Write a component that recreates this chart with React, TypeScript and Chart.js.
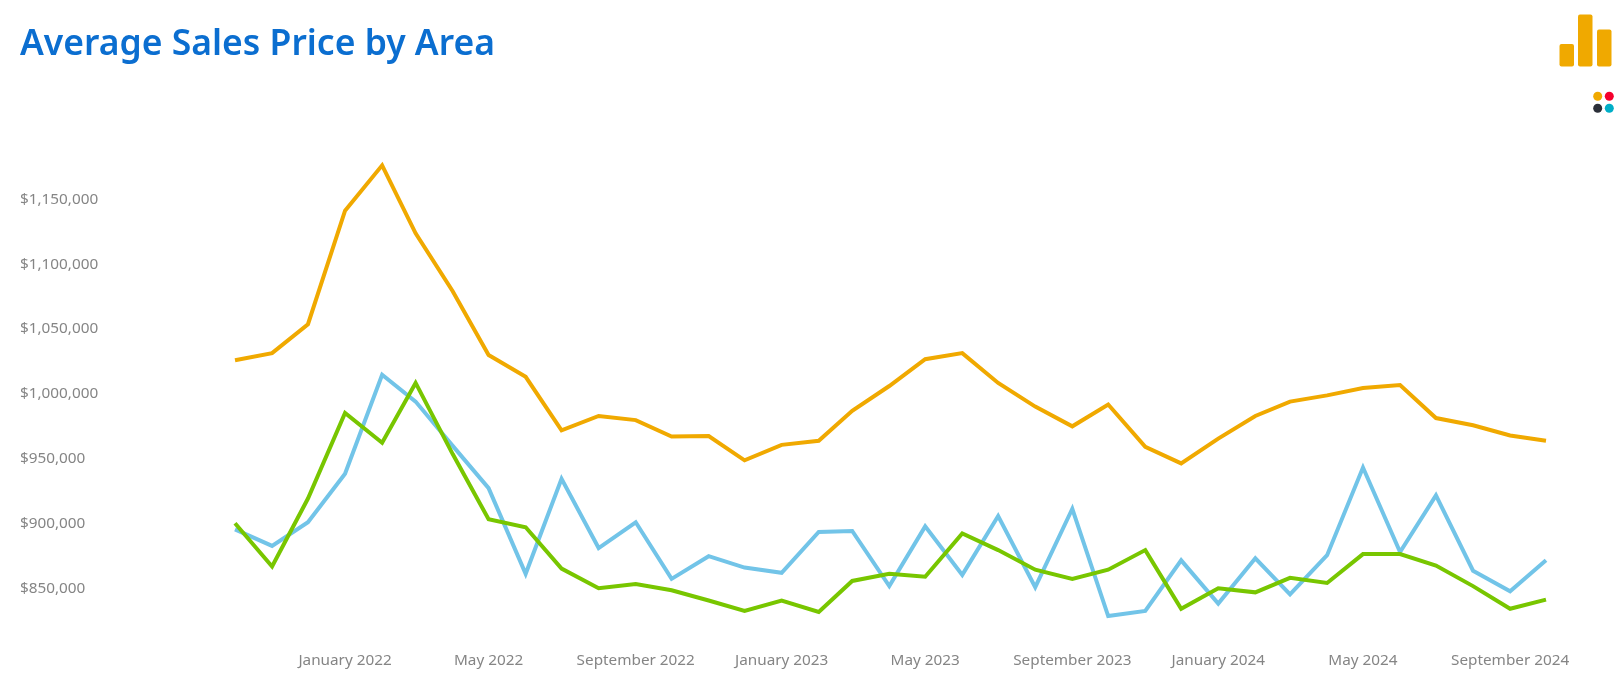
import { useEffect, useRef } from "react"
import { Chart, registerables } from "chart.js"

Chart.register(...registerables)

const months = [
  "October 2021", "November 2021", "December 2021",
  "January 2022", "February 2022", "March 2022", "April 2022", "May 2022", "June 2022",
  "July 2022", "August 2022", "September 2022", "October 2022", "November 2022", "December 2022",
  "January 2023", "February 2023", "March 2023", "April 2023", "May 2023", "June 2023",
  "July 2023", "August 2023", "September 2023", "October 2023", "November 2023", "December 2023",
  "January 2024", "February 2024", "March 2024", "April 2024", "May 2024", "June 2024",
  "July 2024", "August 2024", "September 2024", "October 2024",
]

const shownMonths = [
  "January 2022", "May 2022", "September 2022",
  "January 2023", "May 2023", "September 2023",
  "January 2024", "May 2024", "September 2024",
]

const shownPrices = [850000, 900000, 950000, 1000000, 1050000, 1100000, 1150000]

const orangeArea = [
  1025900, 1031400, 1053700, 1141300, 1176300, 1123800, 1079200, 1029900, 1013100, 971800,
  982900, 979700, 967000, 967400, 948700, 960600, 963800, 986900, 1006000, 1026700,
  1031400, 1008400, 990100, 974900, 991700, 959000, 946300, 965400, 982900, 994000,
  998800, 1004400, 1006800, 981300, 975700, 967800, 963800,
]

const greenArea = [
  900100, 866700, 919200, 985300, 962200, 1008400, 953500, 903300, 897000, 865100,
  850000, 853200, 848400, 840500, 832500, 840500, 831700, 855600, 861100, 858800,
  892200, 879400, 864300, 857200, 864300, 879400, 834100, 850000, 846800, 858000,
  854000, 876300, 876300, 867500, 851600, 834100, 841200,
]

const blueArea = [
  895400, 882600, 900900, 938300, 1014700, 994000, 959800, 927200, 861100, 934400,
  881000, 900900, 857200, 874700, 865900, 861900, 893400, 894200, 851600, 897700,
  860300, 905700, 850800, 911300, 828500, 832500, 871500, 838100, 873100, 845200,
  875500, 943100, 877900, 921600, 863500, 847600, 871500,
]

const tickFont = { family: "'Noto Sans', sans-serif", size: 15.3 }

// the axis runs on real dates, so a 28 day month is narrower than a 31 day one
const monthTime = (month: string) => Date.parse(`1 ${month} UTC`)

const toPoints = (values: number[]) =>
  values.map((y, i) => ({ x: monthTime(months[i]), y }))

export default function App() {
  const chartRef = useRef<HTMLCanvasElement>(null)

  useEffect(() => {
    if (!chartRef.current) return

    const chart = new Chart(chartRef.current, {
      type: "line",
      data: {
        datasets: [
          { label: "Orange area", data: toPoints(orangeArea), borderColor: "#f0a900" },
          { label: "Green area", data: toPoints(greenArea), borderColor: "#78c600" },
          { label: "Blue area", data: toPoints(blueArea), borderColor: "#72c4e8" },
        ],
      },
      options: {
        responsive: false,
        animation: false,
        clip: false,
        layout: { padding: { left: 20, right: 72, top: 6, bottom: 6 } },
        datasets: { line: { borderWidth: 4, tension: 0, pointRadius: 0 } },
        plugins: {
          legend: { display: false },
          tooltip: { enabled: false },
          title: {
            display: true,
            text: "Average Sales Price by Area",
            align: "start",
            color: "#0b6ed0",
            font: { family: "'Noto Sans', sans-serif", size: 35.5, weight: "600", lineHeight: 1.2 },
            padding: { top: 18, bottom: 68 },
          },
        },
        scales: {
          x: {
            type: "linear",
            min: monthTime(months[0]),
            max: monthTime(months[months.length - 1]),
            offset: false,
            grid: { display: false, drawTicks: false },
            border: { display: false },
            afterFit: (scale) => {
              scale.height = 20
            },
            afterBuildTicks: (scale) => {
              scale.ticks = shownMonths.map((month) => ({ value: monthTime(month) }))
            },
            ticks: {
              autoSkip: false,
              maxRotation: 0,
              padding: -2,
              color: "#858585",
              font: tickFont,
              callback: (value) => months.find((month) => monthTime(month) === value) ?? "",
            },
          },
          y: {
            min: 800000,
            max: 1200000,
            grid: { display: false, drawTicks: false },
            border: { display: false },
            afterFit: (scale) => {
              scale.width = 215
            },
            afterBuildTicks: (scale) => {
              scale.ticks = shownPrices.map((value) => ({ value }))
            },
            ticks: {
              crossAlign: "far",
              padding: 0,
              color: "#858585",
              font: tickFont,
              callback: (value) => "$" + Number(value).toLocaleString("en-US"),
            },
          },
        },
      },
    })

    return () => chart.destroy()
  }, [])

  return (
    <div style={{ position: "fixed", inset: 0, background: "#fff" }}>
      <canvas ref={chartRef} width={1618} height={679} style={{ display: "block" }} />
      {/* brand mark, top right */}
      <svg width={1618} height={679} style={{ position: "absolute", left: 0, top: 0, pointerEvents: "none" }}>
        <rect x={1559.5} y={44} width={14.5} height={22.5} rx={2} fill="#f0a900" />
        <rect x={1578} y={14.5} width={14.5} height={52} rx={2} fill="#f0a900" />
        <rect x={1597} y={29.5} width={14.5} height={37} rx={2} fill="#f0a900" />
        <circle cx={1597.7} cy={96.3} r={4.5} fill="#f0a900" />
        <circle cx={1609.3} cy={96.3} r={4.5} fill="#f5002d" />
        <circle cx={1597.7} cy={108.3} r={4.5} fill="#2b2f38" />
        <circle cx={1609.3} cy={108.3} r={4.5} fill="#00aec7" />
      </svg>
    </div>
  )
}
